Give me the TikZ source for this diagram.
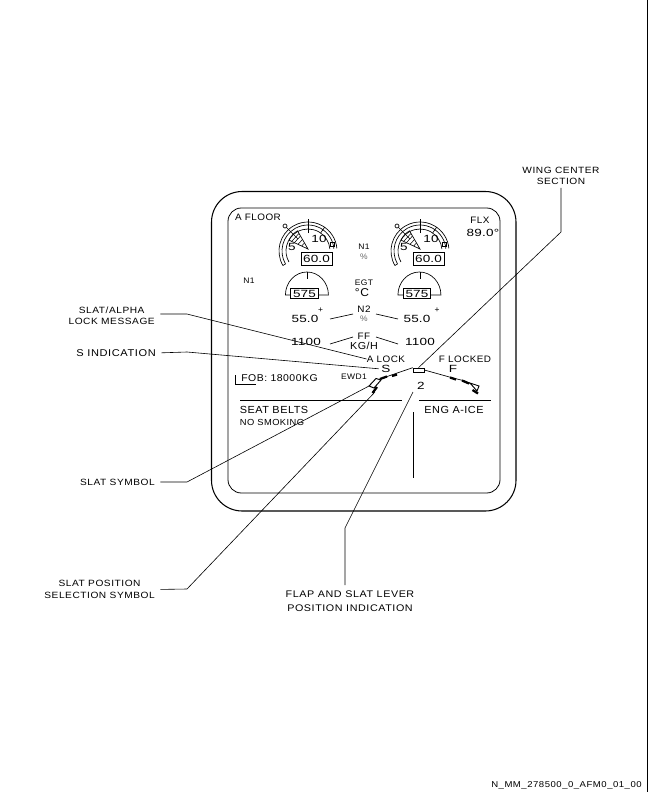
\documentclass[tikz,border=0pt]{standalone}
\usepackage{fontspec}
\setmainfont{Liberation Sans}
\usetikzlibrary{calc,positioning}

\newfontfamily\calloutfont[FakeStretch=1.12,LetterSpace=6]{Liberation Sans}
\newfontfamily\panelfont[FakeStretch=1.06,LetterSpace=5]{Liberation Sans}
\newfontfamily\digitfont[FakeStretch=1.3,LetterSpace=2]{Liberation Sans}

\begin{document}
\begin{tikzpicture}[x=0.75pt,y=-0.75pt,leader/.style = {line width=0.45pt}, fine/.style = {line width=0.5pt}]
	\tikzset{callout/.style={inner sep=0pt,align=center,font=\calloutfont\fontsize{6.8}{8.6}\selectfont}}
	\tikzset{panel/.style={inner sep=0pt,align=center,font=\panelfont\fontsize{7}{8.4}\selectfont}}
	\tikzset{small/.style={inner sep=0pt,align=center,font=\panelfont\fontsize{6}{7.5}\selectfont}}
	\tikzset{big/.style={inner sep=0pt,align=center,font=\digitfont\fontsize{7.8}{9}\selectfont}}
	\tikzset{readout/.style={draw,line width=0.6pt,inner sep=0pt,font=\digitfont\fontsize{7.8}{9}\selectfont}}
	\useasboundingbox (0,0) rectangle (648,792);

	% page edge
	\draw[line width=0.6pt] (647,0) -- (647,792);

	% display frame
	\draw[line width=0.8pt,rounded corners=23pt] (211.5,191.5) rectangle (516,511);
	\draw[line width=0.6pt,rounded corners=10pt] (228,208) rectangle (500,493);

	% N1 dials
	\foreach \cx/\id in {308/a,420/b}{
		\begin{scope}[shift={(\cx,251)}]
			\draw[fine] (0,-2) -- ++(-155:21) arc[start angle=-155,end angle=-120,radius=21] -- cycle;
			\foreach \h in {7,11,15,18}{
				\draw[line width=0.4pt] ($(0,-2)+(-155:\h)$) -- ($(0,-2)+(-120:\h)$);
			}
			\foreach \r in {22,26,29}{
				\draw[fine] (-210:\r) arc[start angle=-210,end angle=-5,radius=\r];
			}
			\draw[fine] (0,-18) -- (0,-32);
			\draw[fine] (-55:22) -- (-55:29);
			\draw[fine] (-210:26) -- (-210:29);
			\draw[fine] (22,-9) rectangle (26,-5);
			\draw[fine] (-10,-12) -- (-22,-24);
			\draw[fine,fill=white] (-23,-25) circle[radius=1.5pt];
		\end{scope}
		\node[big] (five\id) at (\cx-16,247) {5};
		\node[big] (ten\id) at (\cx+11,239) {10};
		\node[readout,minimum width=23.2pt,minimum height=9.7pt] (nvalue\id) at (\cx+8.5,258.5) {60.0};
	}

	% EGT dials
	\foreach \cx/\id in {304.5/a,417/b}{
		\node[readout,minimum width=20.5pt,minimum height=7.5pt] (egtvalue\id) at (\cx,293.5) {575};
		\draw[fine] (egtvalue\id.west) ++(0,1.5) -- ++(-5,0) arc[start angle=-180,end angle=0,x radius=21.5,y radius=23] -- ++(-10,0);
		\draw[fine] (\cx+3,272) -- (\cx+3,279);
	}

	% texts inside the display
	\node[panel] (afloor) at (258,217) {A FLOOR};
	\node[panel] (flx) at (480,220) {FLX};
	\node[big] (flxvalue) at (483,233) {89.0°};
	\node[small] (none) at (364,247) {N1};
	\node[small,text=black!60] (nonepc) at (364,257) {\%};
	\node[small] (nonel) at (249,281) {N1};
	\node[small] (egt) at (364,283) {EGT};
	\node[panel,font=\panelfont\fontsize{8.5}{9}\selectfont] (degc) at (362,293) {°C};

	\node[panel] (ntwo) at (364,309) {N2};
	\node[small,text=black!60] (ntwopc) at (364,319) {\%};
	\node[big] (ntwol) at (305,319) {55.0};
	\node[big] (ntwor) at (417,319) {55.0};
	\node[small] (plusl) at (320.5,310) {+};
	\node[small] (plusr) at (437,310) {+};
	\node[big] (ffl) at (306,342) {1100};
	\node[big] (ffr) at (420,342) {1100};
	\node[panel] (ff) at (364,336) {FF};
	\node[panel,font=\panelfont\fontsize{7.6}{9}\selectfont] (kgh) at (364,346) {KG/H};
	\draw[fine] (330,319) -- (353,314);
	\draw[fine] (376,314) -- (398,319);
	\draw[fine] (330,344) -- (353,337);
	\draw[fine] (376,337) -- (398,344);

	\node[panel] (alock) at (386,359) {A LOCK};
	\node[panel] (flocked) at (465,359) {F LOCKED};
	\node[big] (sind) at (386,369) {S};
	\node[big] (find) at (453,369) {F};
	\node[small] (ewd) at (354,377) {EWD1};
	\node[big] (twoind) at (421,386) {2};
	\node[panel,font=\panelfont\fontsize{7.4}{9}\selectfont] (fob) at (279.5,378) {FOB: 18000KG};
	\draw[fine] (235.7,375) -- (235.7,384) -- (256,384);

	% wing
	\node[draw,line width=0.5pt,inner sep=0pt,minimum width=8.2pt,minimum height=3pt] (wingbox) at (418.5,370) {};
	\draw[fine] (wingbox.north west) -- (377,380) -- (372,383);
	\draw[fine] (wingbox.east) -- (453,378) -- (465,381) -- (473,385);
	\draw[line width=1.7pt] (380,379) -- (387,376.5);
	\draw[line width=1.7pt] (392,376) -- (397,374.5);
	\draw[line width=1.7pt] (450,377.5) -- (456,379.5);
	\draw[line width=1.7pt] (462,380.5) -- (469,383.5);
	\draw[line width=0.7pt,fill=white] (369,386) -- (376,378.5) -- (381,380) -- (374,388) -- cycle;
	\draw[line width=0.7pt,fill=white] (470,383) -- (479,386) -- (477,391) -- cycle;
	\draw[line width=1.7pt] (372.5,393) -- (377,387);
	\draw[line width=1.7pt] (472.5,390) -- (478,393.5);

	% lower part
	\draw[line width=0.7pt] (240,400) -- (401.5,400);
	\draw[line width=0.7pt] (419,400) -- (490.5,400);
	\node[panel,font=\panelfont\fontsize{7.7}{9}\selectfont] (seat) at (274,410) {SEAT BELTS};
	\node[small,font=\panelfont\fontsize{6.6}{8}\selectfont] (smoke) at (272,422) {NO SMOKING};
	\node[panel,font=\panelfont\fontsize{7.7}{9}\selectfont] (ice) at (454,410) {ENG A-ICE};
	\draw[line width=0.8pt] (413.5,412) -- (413.5,478);

	% callouts
	\node[callout] (wing) at (561,176) {WING CENTER\\SECTION};
	\node[callout,anchor=east] (lockmsg) at (155,315.5) {SLAT/ALPHA\\LOCK MESSAGE};
	\node[callout,anchor=east,font=\calloutfont\fontsize{7.4}{8.6}\selectfont] (scall) at (156,353) {S INDICATION};
	\node[callout,anchor=east] (slat) at (155,482) {SLAT SYMBOL};
	\node[callout,anchor=east] (slatpos) at (155,589.5) {SLAT POSITION\\SELECTION SYMBOL};
	\node[callout,font=\calloutfont\fontsize{7.2}{10.5}\selectfont] (lever) at (350,601) {FLAP AND SLAT LEVER\\POSITION INDICATION};
	\node[callout,anchor=east,font=\calloutfont\fontsize{6.4}{8}\selectfont] (ref) at (642,785) {N\_MM\_278500\_0\_AFM0\_01\_00};

	\coordinate (wingknee) at (561,232);
	\coordinate (lockknee) at (187,314);
	\coordinate (sknee) at (187,352);
	\coordinate (slatknee) at (187,482);
	\coordinate (posknee) at (187,589);
	\coordinate (leverstart) at (345,585);
	\coordinate (leverknee) at (345,528);
	\coordinate (slatend) at (369,386);
	\coordinate (posend) at (375,392);
	\coordinate (leverend) at (413,392);

	% leaders
	\draw[leader,shorten <=2pt] (wing.south) -- (wingknee) -- (wingbox.north);
	\draw[leader,shorten <=4pt] (lockmsg.east |- lockknee) -- (lockknee) -- (alock.west);
	\draw[leader,shorten <=4pt,shorten >=2pt] (scall.east) -- (sknee) -- (sind.west);
	\draw[leader,shorten <=4pt] (slat.east) -- (slatknee) -- (slatend);
	\draw[leader,shorten <=4pt] (slatpos.east) -- (posknee) -- (posend);
	\draw[leader] (leverstart) -- (leverknee) -- (leverend);

\end{tikzpicture}
\end{document}
